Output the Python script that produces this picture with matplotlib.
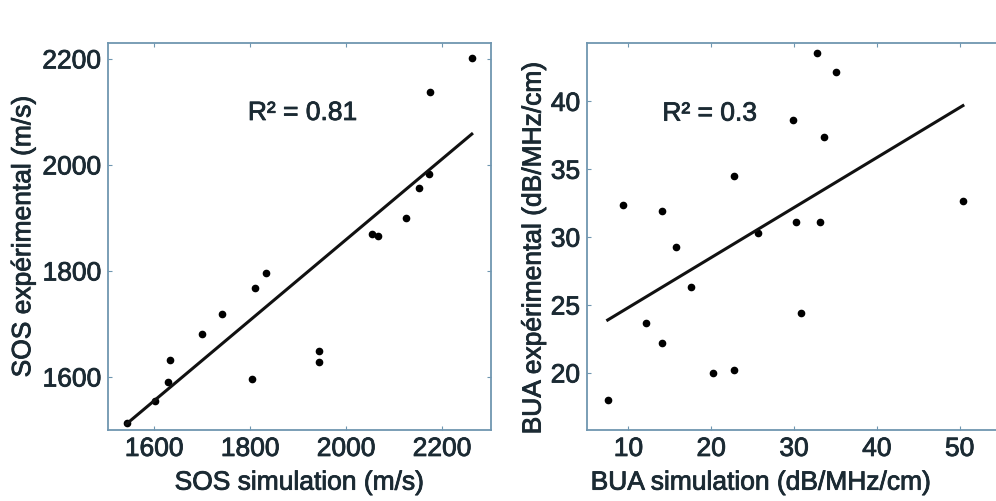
import numpy as np
import matplotlib.pyplot as plt
import matplotlib.patheffects as pe

plt.rcParams['font.family'] = ['Liberation Sans', 'DejaVu Sans']

# SOS panel
sos_sim = [1543, 1602, 1630, 1633, 1699, 1741, 1811, 1833, 1805, 1943, 1943,
           2055, 2066, 2125, 2152, 2173, 2175, 2262]
sos_exp = [1514, 1555, 1591, 1632, 1681, 1719, 1768, 1797, 1596, 1649, 1629,
           1870, 1866, 1900, 1957, 1983, 2137, 2201]
sos_fit = (0.760, 339.1)  # slope, intercept
sos_r2 = '0.81'

# BUA panel
bua_sim = [7.5, 9.4, 12.1, 14.1, 14.1, 15.7, 17.5, 20.2, 22.8, 22.8, 25.6,
           29.9, 30.3, 30.9, 32.8, 33.1, 33.6, 35.1, 50.4]
bua_exp = [18.0, 32.4, 23.7, 22.2, 31.9, 29.3, 26.3, 20.0, 20.2, 34.5, 30.3,
           38.6, 31.1, 24.4, 43.6, 31.1, 37.4, 42.2, 32.7]
bua_fit = (0.368, 21.14)
bua_r2 = '0.3'

spine_col = '#6f96b0'
text_col = '#1b2a33'
fs = 19
thick = [pe.withStroke(linewidth=0.6, foreground=text_col)]

fig = plt.figure(figsize=(9.96, 5.01), dpi=100)
W, H = 996, 501
ax1 = fig.add_axes([108 / W, 1 - 430 / H, (491 - 108) / W, (430 - 43) / H])
ax2 = fig.add_axes([587 / W, 1 - 430 / H, (1001 - 587) / W, (430 - 43) / H])


def panel(ax, xs, ys, fit, r2, r2_pos):
    ax.plot(xs, ys, linestyle='none', marker='o', ms=4.5, color='black')
    xl = np.array([min(xs), max(xs)])
    ax.plot(xl, fit[0] * xl + fit[1], color='#111111', lw=2.2)
    ax.text(r2_pos[0], r2_pos[1], 'R\u00b2 = ' + r2, fontsize=fs,
            color=text_col, ha='center', va='center', path_effects=thick)
    for s in ax.spines.values():
        s.set_color(spine_col)
        s.set_linewidth(1.3)
    ax.tick_params(direction='in', length=3, color=spine_col, top=True,
                   right=True, labelsize=fs, labelcolor=text_col, pad=5)


panel(ax1, sos_sim, sos_exp, sos_fit, sos_r2, (1909, 2098))
ax1.set_xlim(1504, 2302)
ax1.set_ylim(1500, 2230)
ax1.set_xticks([1600, 1800, 2000, 2200])
ax1.set_yticks([1600, 1800, 2000, 2200])
for lab in ax1.get_xticklabels() + ax1.get_yticklabels():
    lab.set_path_effects(thick)
ax1.set_xlabel('SOS simulation (m/s)', fontsize=fs, color=text_col, path_effects=thick)
ax1.set_ylabel('SOS expérimental (m/s)', fontsize=fs, color=text_col, path_effects=thick)
ax1.xaxis.set_label_coords(0.5, -0.105)
ax1.yaxis.set_label_coords(-0.19, 0.5)

panel(ax2, bua_sim, bua_exp, bua_fit, bua_r2, (19.8, 39.1))
ax2.set_xlim(5, 55)
ax2.set_ylim(15.8, 44.3)
ax2.set_xticks([10, 20, 30, 40, 50])
ax2.set_yticks([20, 25, 30, 35, 40])
for lab in ax2.get_xticklabels() + ax2.get_yticklabels():
    lab.set_path_effects(thick)
ax2.set_xlabel('BUA simulation (dB/MHz/cm)', fontsize=fs, color=text_col, path_effects=thick)
ax2.set_ylabel('BUA expérimental (dB/MHz/cm)', fontsize=fs, color=text_col, path_effects=thick)
ax2.xaxis.set_label_coords(0.42, -0.105)
ax2.yaxis.set_label_coords(-0.1, 0.47)

fig.savefig('out.png', dpi=100)
